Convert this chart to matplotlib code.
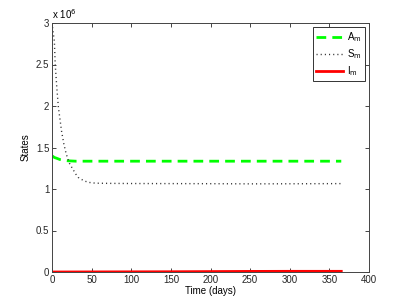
import matplotlib
matplotlib.use('Agg')
import matplotlib.pyplot as plt
import numpy as np

plt.rcParams['font.family'] = ['Liberation Sans', 'DejaVu Sans']

# values (states in units of 1e6)
t_a = [0, 3, 6, 10, 15, 20, 30, 50, 100, 200, 300, 365]
a_m = [1.40, 1.38, 1.37, 1.355, 1.345, 1.34, 1.335, 1.335, 1.335, 1.335, 1.335, 1.335]

t_s = [0, 1, 3, 4, 6, 8, 12, 15, 18, 22, 25, 30, 33, 40, 46, 55, 70, 100, 150, 200, 250, 300, 365]
s_m = [3.0, 2.92, 2.78, 2.51, 2.23, 1.99, 1.70, 1.54, 1.42, 1.31, 1.26, 1.18, 1.14, 1.10,
       1.08, 1.07, 1.068, 1.066, 1.065, 1.064, 1.062, 1.063, 1.065]

t_i = [0, 50, 100, 150, 200, 250, 300, 365]
i_m = [0.0, 0.001, 0.002, 0.003, 0.005, 0.007, 0.008, 0.008]

xticks = [0, 50, 100, 150, 200, 250, 300, 350, 400]
yticks = [0, 0.5, 1, 1.5, 2, 2.5, 3]
ytick_labels = ['0', '0.5', '1', '1.5', '2', '2.5', '3']

fig = plt.figure(figsize=(4.07, 3.06), dpi=100)
ax = fig.add_axes([52 / 407, 34 / 306, 317 / 407, 249 / 306])

ax.plot(t_a, a_m, color='#00ff00', ls=(0, (3.5, 2.2)), lw=2, label=r'A$_\mathrm{m}$')
ax.plot(t_s, s_m, color='#333333', ls=(0, (0.8, 2.2)), lw=1, label=r'S$_\mathrm{m}$')
ax.plot(t_i, i_m, color='#ff0000', lw=2, label=r'I$_\mathrm{m}$')

ax.set_xlim(0, 400)
ax.set_ylim(0, 3)
ax.set_xticks(xticks)
ax.set_yticks(yticks)
ax.set_yticklabels(ytick_labels)
ax.tick_params(direction='in', top=True, right=True, labelsize=7, length=3, width=0.6,
               colors='#262626', pad=2)
for s in ax.spines.values():
    s.set_linewidth(0.7)
    s.set_color('#444444')

ax.set_xlabel('Time (days)', fontsize=7, labelpad=1)
ax.set_ylabel('States', fontsize=7, labelpad=4)
ax.text(0.0, 1.01, r'x 10$^{6}$', transform=ax.transAxes, fontsize=7, ha='left', va='bottom')

leg = ax.legend(loc='upper right', fontsize=7, fancybox=False, edgecolor='#333333',
                framealpha=1, handlelength=2.8, handletextpad=0.4, borderpad=0.3,
                labelspacing=0.35, borderaxespad=0.45)
leg.get_frame().set_linewidth(0.7)

fig.savefig('out.png', dpi=100)
